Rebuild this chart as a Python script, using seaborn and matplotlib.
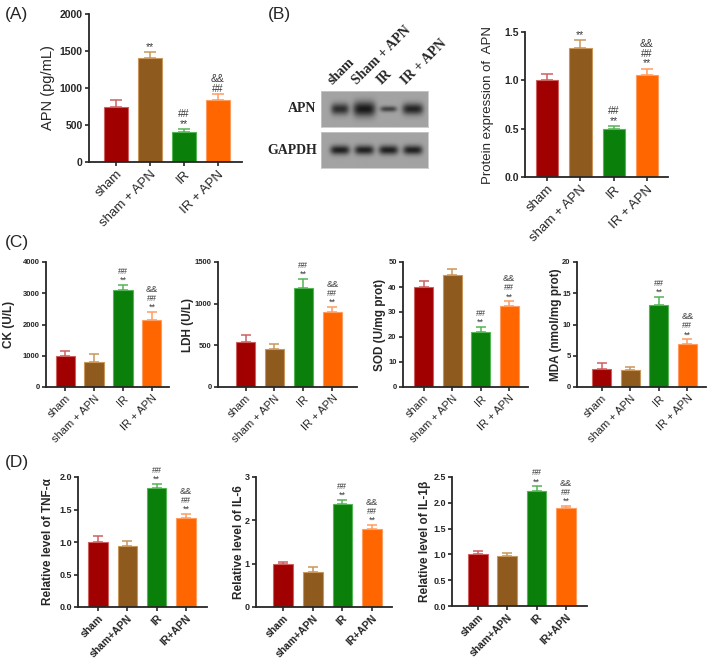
import matplotlib
matplotlib.use("Agg")
import matplotlib.pyplot as plt
import matplotlib.ticker as mticker
import seaborn as sns
import numpy as np

sns.set_style("ticks")
plt.rcParams["font.family"] = ["Liberation Sans", "DejaVu Sans"]
plt.rcParams["axes.linewidth"] = 1.3

W, H = 709, 660

# ---- data ----
groups = ["sham", "sham + APN", "IR", "IR + APN"]
groups_d = ["sham", "sham+APN", "IR", "IR+APN"]
bar_colors = ["#a00000", "#8e5a1e", "#0a800a", "#ff6600"]
edge_colors = ["#cf6060", "#c9975c", "#55b455", "#ff9c60"]

apn_mean = [739, 1405, 401, 838]
apn_err = [99, 77, 45, 77]
apn_marks = ["", "**", "##\n**", "&&\n##"]

wb_mean = [1.0, 1.33, 0.5, 1.06]
wb_err = [0.066, 0.083, 0.028, 0.062]
wb_marks = ["", "**", "##\n**", "&&\n##\n**"]

blot_lanes = ["sham", "Sham + APN", "IR", "IR + APN"]
apn_band = [0.85, 1.0, 0.7, 0.92]
apn_band_w = [0.37, 0.46, 0.34, 0.43]
apn_band_h = [0.16, 0.21, 0.08, 0.16]
gapdh_band = [0.95, 0.95, 0.95, 0.95]
gapdh_band_w = [0.40, 0.40, 0.40, 0.40]
gapdh_band_h = [0.13, 0.13, 0.13, 0.13]

ck_mean = [990, 800, 3100, 2145]
ck_err = [160, 266, 165, 266]
ldh_mean = [544, 452, 1186, 905]
ldh_err = [76, 68, 112, 56]
sod_mean = [40.2, 44.9, 21.9, 32.4]
sod_err = [2.4, 2.5, 2.2, 1.9]
mda_mean = [2.95, 2.7, 13.1, 6.88]
mda_err = [0.82, 0.55, 1.28, 0.75]
marks_c = ["", "", "##\n**", "&&\n##\n**"]

tnf_mean = [1.0, 0.94, 1.83, 1.375]
tnf_err = [0.085, 0.072, 0.06, 0.062]
il6_mean = [1.0, 0.81, 2.38, 1.79]
il6_err = [0.05, 0.12, 0.1, 0.1]
il1b_mean = [1.0, 0.96, 2.22, 1.89]
il1b_err = [0.07, 0.07, 0.1, 0.047]
marks_d = ["", "", "##\n**", "&&\n##\n**"]

fig = plt.figure(figsize=(W / 100, H / 100), dpi=100)


def add_ax(left, top, right, bottom):
    return fig.add_axes([left / W, 1 - bottom / H, (right - left) / W, (bottom - top) / H])


def bar_panel(box, labels, means, errs, marks, ylim, yticks, ylabel, xlim, label_right,
              width=0.66, tick_fs=5.5, lab_fs=8.5, xfs=8, x_bold=False, lab_bold=True,
              mark_fs=6.5, fmt=None, capsize=3.5):
    ax = add_ax(*box)
    sns.barplot(x=labels, y=means, hue=labels, palette=bar_colors, legend=False,
                width=width, saturation=1, ax=ax, zorder=2)
    for p, ec in zip(ax.patches, edge_colors):
        p.set_edgecolor(ec)
        p.set_linewidth(0.8)
    for i, (m, e) in enumerate(zip(means, errs)):
        ax.errorbar(i, m, yerr=[[0], [e]], color=edge_colors[i], capsize=capsize,
                    elinewidth=1.1, capthick=1.1, zorder=1)
        if marks[i]:
            ax.annotate(marks[i], (i, m + e), xytext=(0, 0), textcoords="offset points",
                        ha="center", va="bottom", fontsize=mark_fs, color="#3a3a3a",
                        linespacing=1.0)
    ax.set_xlim(*xlim)
    ax.set_ylim(*ylim)
    ax.set_yticks(yticks)
    if fmt:
        ax.yaxis.set_major_formatter(mticker.FormatStrFormatter(fmt))
    ax.set_xticks(range(len(labels)))
    ax.set_xticklabels(labels, rotation=45, ha="right", rotation_mode="anchor",
                       fontsize=xfs, fontweight="bold" if x_bold else "normal")
    for t in ax.get_yticklabels():
        t.set_fontweight("bold")
        t.set_fontsize(tick_fs)
    ax.tick_params(direction="out", length=3, width=1.2, pad=1.5)
    ax.set_ylabel(ylabel, fontsize=lab_fs, fontweight="bold" if lab_bold else "normal")
    ax.set_xlabel("")
    ax.yaxis.set_label_coords((label_right - box[0]) / (box[2] - box[0]), 0.5)
    sns.despine(ax=ax)
    return ax


# ---- (A) ----
bar_panel((89, 14, 242, 162), groups, apn_mean, apn_err, apn_marks, (0, 2000),
          [0, 500, 1000, 1500, 2000], "APN (pg/mL)", (-0.79, 3.71), 55,
          width=0.7, tick_fs=7.5, lab_fs=10.5, xfs=9.5, lab_bold=False, mark_fs=7.5, capsize=4.5)

# ---- (B) blot ----
lane_x = np.linspace(-0.78, 3.62, 440)
lane_y = np.linspace(0, 1, 80)
XX, YY = np.meshgrid(lane_x, lane_y)


def blot_image(amp, bw, bh):
    dark = np.zeros_like(XX)
    for i in range(len(amp)):
        dark += amp[i] * np.exp(-np.abs((XX - i) / bw[i]) ** 4) * np.exp(-((YY - 0.5) / bh[i]) ** 2)
    dark = np.clip(dark, 0, 1)
    return 0.64 - dark * 0.54


for (top, bottom, amp, bw, bh, name) in [
    (91, 127, apn_band, apn_band_w, apn_band_h, "APN"),
    (132, 168, gapdh_band, gapdh_band_w, gapdh_band_h, "GAPDH"),
]:
    bax = add_ax(321, top, 428, bottom)
    bax.imshow(blot_image(amp, bw, bh), cmap="gray", vmin=0, vmax=1, aspect="auto",
               extent=(-0.78, 3.62, 0, 1), interpolation="bilinear")
    bax.set_xticks([])
    bax.set_yticks([])
    for s in bax.spines.values():
        s.set_color("#c8c8c8")
        s.set_linewidth(0.6)
    bax.text(-0.04, 0.5, name, transform=bax.transAxes, ha="right", va="center",
             fontsize=10, fontweight="bold", family=["Liberation Serif", "DejaVu Serif"])
    if name == "APN":
        for i, lab in enumerate(blot_lanes):
            bax.text(i - 0.2, 1.1, lab, transform=bax.get_xaxis_transform(), rotation=45,
                     rotation_mode="anchor", ha="left", va="bottom", fontsize=10,
                     fontweight="bold", family=["Liberation Serif", "DejaVu Serif"])

# ---- (B) bars ----
bar_panel((525, 32, 668, 177), groups, wb_mean, wb_err, wb_marks, (0, 1.5),
          [0, 0.5, 1.0, 1.5], "Protein expression of  APN", (-0.66, 3.63), 494,
          width=0.67, tick_fs=7.5, lab_fs=9.5, xfs=9.5, lab_bold=False, mark_fs=7.5,
          fmt="%.1f", capsize=4.5)

# ---- (C) ----
bar_panel((46, 262, 169, 387), groups, ck_mean, ck_err, marks_c, (0, 4000),
          [0, 1000, 2000, 3000, 4000], "CK (U/L)", (-0.66, 3.59), 15)
bar_panel((218, 262, 357, 387), groups, ldh_mean, ldh_err, marks_c, (0, 1500),
          [0, 500, 1000, 1500], "LDH (U/L)", (-0.95, 3.85), 194)
bar_panel((403, 262, 528, 387), groups, sod_mean, sod_err, marks_c, (0, 50),
          [0, 10, 20, 30, 40, 50], "SOD (U/mg prot)", (-0.72, 3.66), 386)
bar_panel((577, 262, 706, 387), groups, mda_mean, mda_err, marks_c, (0, 20),
          [0, 5, 10, 15, 20], "MDA (nmol/mg prot)", (-0.87, 3.65), 562)

# ---- (D) ----
bar_panel((78, 477, 207, 607), groups_d, tnf_mean, tnf_err, marks_d, (0, 2.0),
          [0, 0.5, 1.0, 1.5, 2.0], "Relative level of TNF-\u03b1", (-0.68, 3.72), 54,
          tick_fs=6.5, lab_fs=8.5, xfs=7.5, x_bold=True, fmt="%.1f")
bar_panel((256, 477, 392, 607), groups_d, il6_mean, il6_err, marks_d, (0, 3),
          [0, 1, 2, 3], "Relative level of IL-6", (-0.92, 3.68), 245,
          tick_fs=6.5, lab_fs=8.5, xfs=7.5, x_bold=True)
bar_panel((452, 477, 587, 606), groups_d, il1b_mean, il1b_err, marks_d, (0, 2.5),
          [0, 0.5, 1.0, 1.5, 2.0, 2.5], "Relative level of IL-1\u03b2", (-0.88, 3.72), 431,
          tick_fs=6.5, lab_fs=8.5, xfs=7.5, x_bold=True, fmt="%.1f")

# ---- panel letters ----
for lab, x, y in [("(A)", 5, 15), ("(B)", 268, 15), ("(C)", 5, 242), ("(D)", 5, 462)]:
    fig.text(x / W, 1 - y / H, lab, fontsize=12.5, ha="left", va="center")

fig.savefig("out.png", dpi=100)
